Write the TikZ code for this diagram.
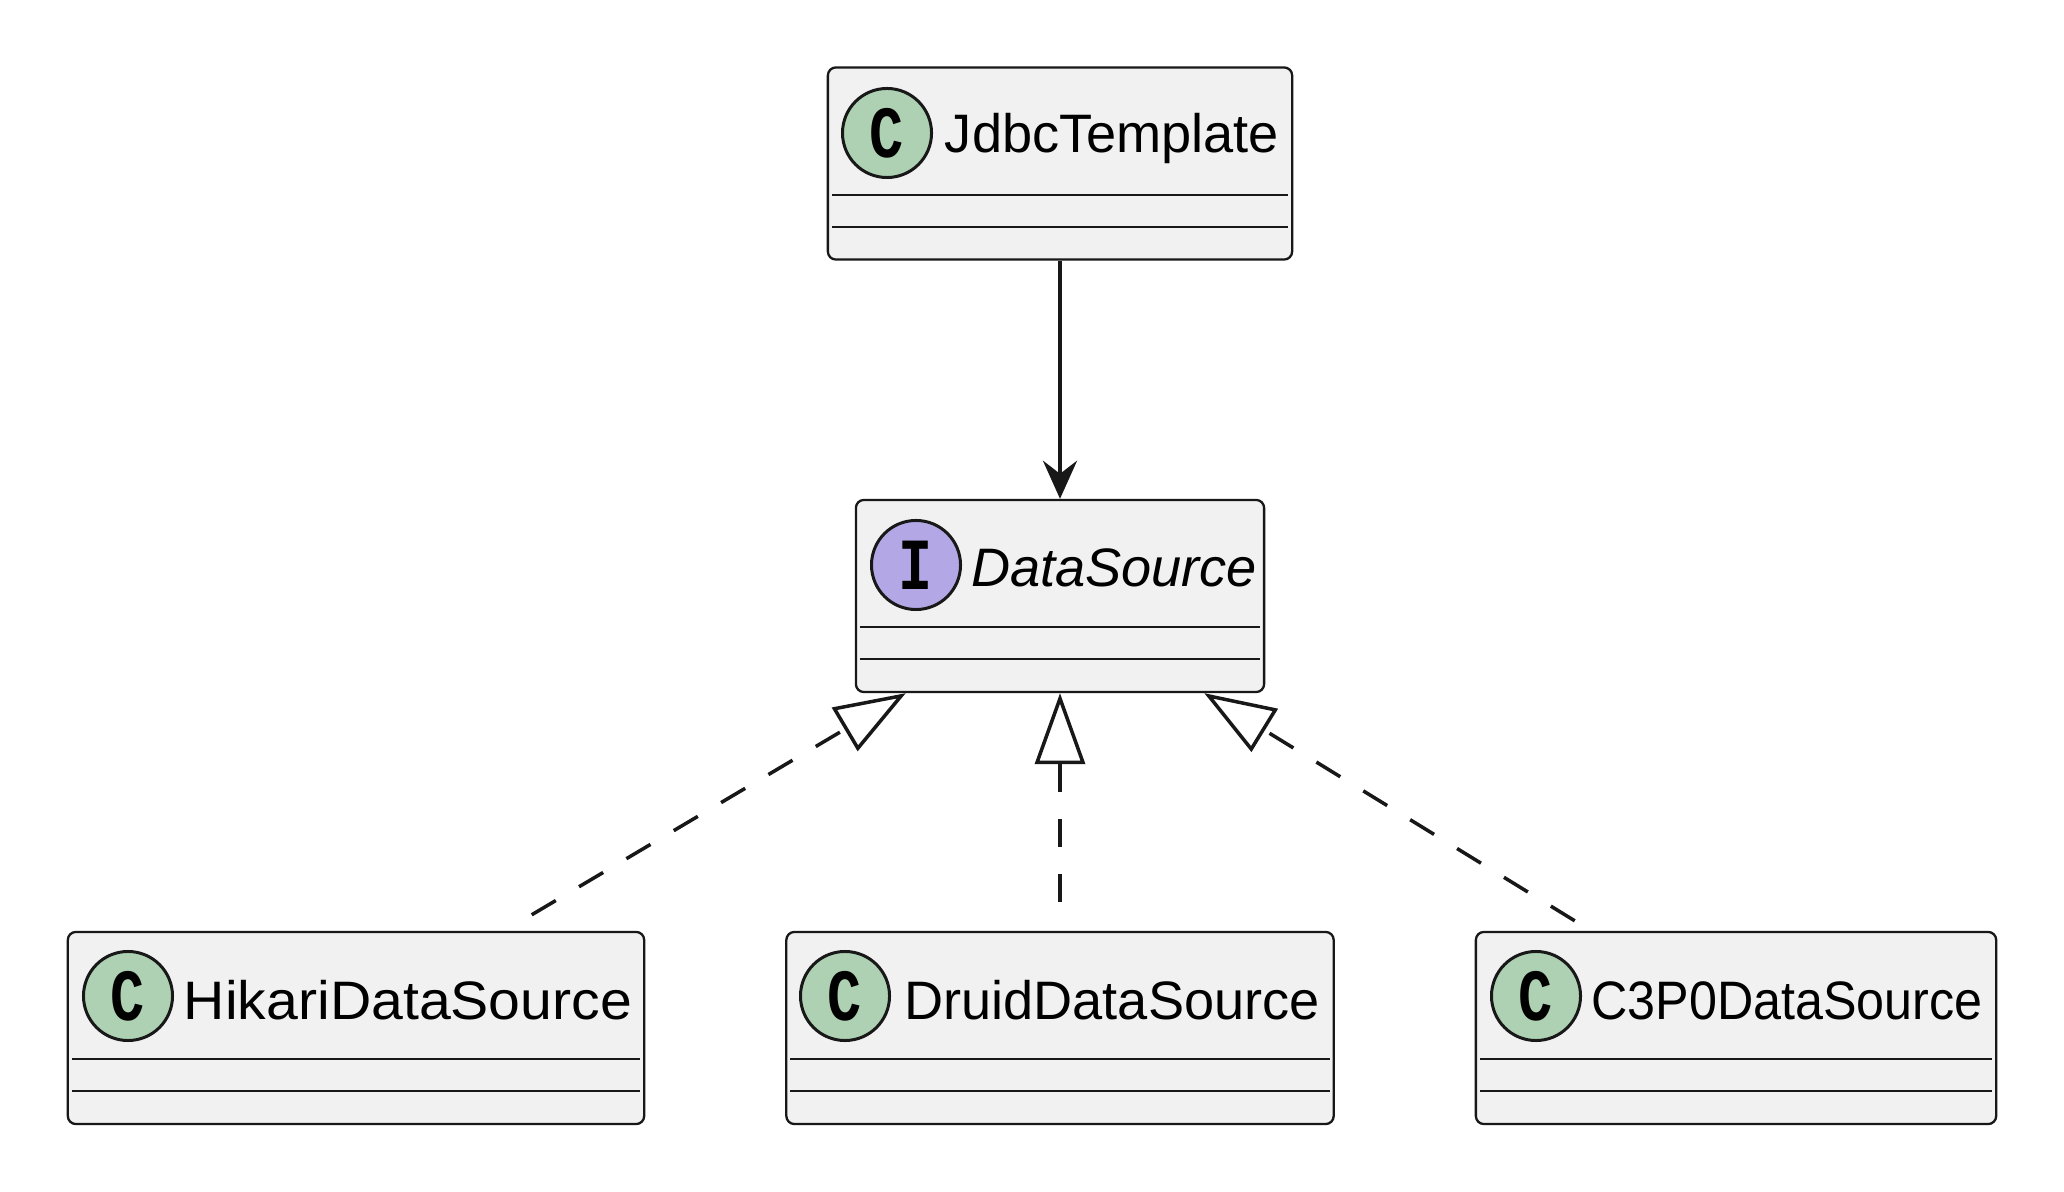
\documentclass[tikz,border=0pt]{standalone}
\usepackage{fontspec}
\setmainfont{Liberation Sans}
\newfontfamily\glyphfont{Liberation Mono}
\usetikzlibrary{calc,arrows.meta}
\definecolor{boxFill}{RGB}{241,241,241}
\definecolor{inkDark}{RGB}{24,24,24}
\definecolor{classGreen}{RGB}{173,209,178}
\definecolor{ifacePurple}{RGB}{180,167,229}

\begin{document}
\begin{tikzpicture}[x=0.01cm, y=-0.01cm,
    classbox/.style={draw=inkDark, fill=boxFill, line width=0.65pt,
      rounded corners=0.08cm, inner sep=0pt, minimum height=1.92cm},
    headcircle/.style={circle, draw=inkDark, line width=0.85pt, inner sep=0pt,
      minimum size=0.89cm, font=\glyphfont\bfseries\fontsize{19}{19}\selectfont},
    classname/.style={anchor=base, inner sep=0pt, text=black,
      font=\fontsize{15.4}{17}\selectfont},
    sepline/.style={draw=inkDark, line width=0.6pt},
    assoc/.style={draw=inkDark, line width=1.15pt,
      -{Stealth[length=0.38cm, width=0.34cm, inset=0.13cm]}},
    realize/.style={draw=inkDark, line width=1pt, dash pattern=on 0.28cm off 0.27cm,
      -{Triangle[open, length=0.71cm, width=0.5cm]}}]
    \useasboundingbox[fill=white] (0,0) rectangle (2064,1192);

    % top class
    \node[classbox, minimum width=4.64cm] (jdbc) at (1060,163.5) {};
    \draw[sepline] ($(jdbc.north west)+(5,129)$) -- ($(jdbc.north east)+(-5,129)$);
    \draw[sepline] ($(jdbc.north west)+(5,161)$) -- ($(jdbc.north east)+(-5,161)$);
    \node[headcircle, fill=classGreen] (jdbcC) at (887,133) {\scalebox{0.85}[1.1]{C}};
    \node[classname] (jdbcT) at (1112,153) {JdbcTemplate};

    % interface
    \node[classbox, minimum width=4.08cm] (ds) at (1060,596) {};
    \draw[sepline] ($(ds.north west)+(5,128)$) -- ($(ds.north east)+(-5,128)$);
    \draw[sepline] ($(ds.north west)+(5,160)$) -- ($(ds.north east)+(-5,160)$);
    \node[headcircle, fill=ifacePurple] (dsI) at (916,565) {\scalebox{0.85}[1.1]{I}};
    \node[classname, font=\fontsize{15.4}{17}\selectfont\itshape] (dsT) at (1114,587) {DataSource};

    % implementations
    \foreach \nm/\cx/\w/\ccx/\tx/\sx/\lbl in {hikari/356/5.76/128/408/1.056/HikariDataSource,
        druid/1060/5.47/845/1112/1/DruidDataSource,
        cpo/1736/5.20/1536/1787/0.928/C3P0DataSource} {
      \node[classbox, minimum width=\w cm] (\nm) at (\cx,1028) {};
      \draw[sepline] ($(\nm.north west)+(5,128)$) -- ($(\nm.north east)+(-5,128)$);
      \draw[sepline] ($(\nm.north west)+(5,160)$) -- ($(\nm.north east)+(-5,160)$);
      \node[headcircle, fill=classGreen] (\nm C) at (\ccx,996) {\scalebox{0.85}[1.1]{C}};
      \node[classname] (\nm T) at (\tx,1019) {\scalebox{\sx}[1]{\lbl}};
    }

    \draw[assoc] (jdbc) -- (ds);

    \draw[realize] ($(hikari.north west)+(465,-16)$) -- ($(ds.south west)+(51,0)$);
    \draw[realize] ($(druid.north)+(0,-29)$) -- (ds.south);
    \draw[realize] ($(cpo.north west)+(100,-10)$) -- ($(ds.south east)+(-61,0)$);
  \end{tikzpicture}
\end{document}
